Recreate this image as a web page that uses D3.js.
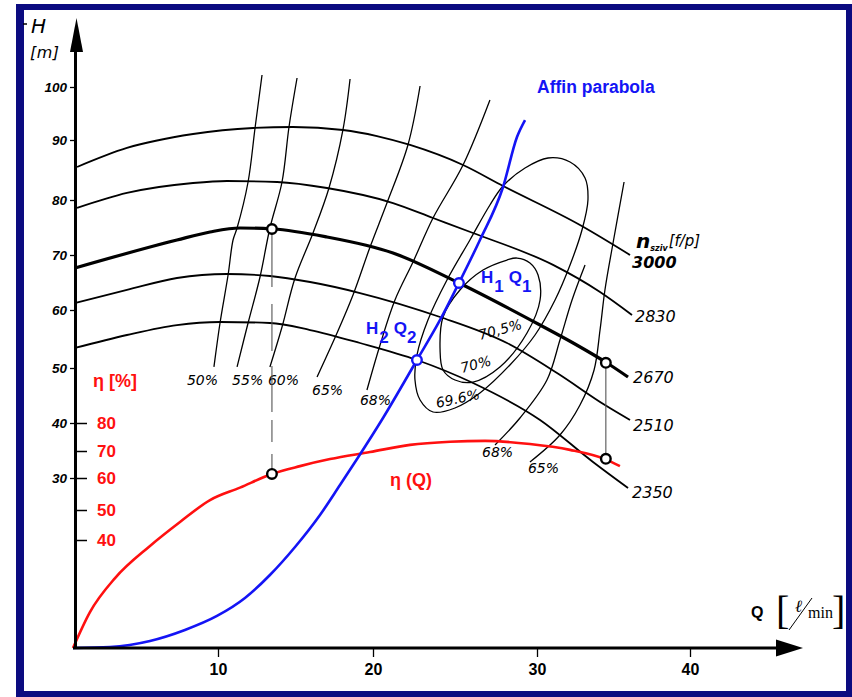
<!DOCTYPE html>
<html><head><meta charset="utf-8">
<script src="https://cdn.jsdelivr.net/npm/d3@7"></script>
<style>body{margin:0;background:#fff}svg{display:block}</style>
</head><body>
<svg id="c" width="852" height="697"></svg>
<script>
// ---------- data ----------
const qTicks = [10, 20, 30, 40];
const hTicks = [30, 40, 50, 60, 70, 80, 90, 100];
const etaTicks = [40, 50, 60, 70, 80];
const speedLabels = ["3000", "2830", "2670", "2510", "2350"];

// H-Q curves at constant speed [Q, H]
const hq3000 = [[0.28,85.5],[3.72,88.67],[8.28,91.13],[12.26,92.26],[14.84,92.45],[18.06,91.89],[20.24,90.75],[22.26,89.17],[25.49,85.83],[27.93,82.33],[32.81,75.45],[36.08,70]];
const hq2830 = [[0.28,78.55],[3.72,81.17],[8.28,82.83],[10.58,83.17],[13.81,83.0],[17.03,82.0],[21.22,79.45],[23.66,76.73],[26.10,74.0],[31.05,68.2],[34.12,63.27],[36.21,59.14]];
const hq2670 = [[0.14,67.64],[7.17,72.73],[9.45,74.18],[11.42,74.91],[13.55,74.73],[17.03,73.27],[21.22,70.36],[25.24,64.91],[30.2,57.41],[32.48,54.14],[34.58,50.86],[35.95,48.36]];
const hq2510 = [[0.14,61.27],[3.72,63.64],[7.17,65.82],[10.58,66.55],[13.35,66.18],[15.94,65.09],[19.16,63.09],[24.09,58.79],[28.17,54.31],[31.31,49.09],[34.44,43.27],[36.08,40.55]];
const hq2350 = [[0.14,53.45],[3.72,55.69],[7.17,57.41],[10.13,57.93],[13.35,57.76],[15.94,56.55],[19.16,54.31],[22.68,51.38],[26.10,47.27],[30.2,40.55],[33.66,32.91],[35.95,28.23]];

// iso-efficiency lines [Q, H]
const iso50  = [[12.84,102.26],[12.39,92.26],[11.94,83],[11.23,74.91],[10.97,72.73],[10.65,66.36],[10.13,57.76],[9.72,50.18]];
const iso55  = [[15.10,101.7],[14.58,92.45],[14.13,83],[13.35,74.91],[12.71,66.0],[11.94,57.76],[11.23,50.18]];
const iso60  = [[18.52,101.5],[18.06,91.89],[17.16,82],[16.13,74],[14.97,65.82],[14.13,57.07],[13.35,50.18]];
const iso65L = [[22.87,100.19],[22.13,89.17],[20.85,79.45],[19.81,71.45],[18.71,62.73],[17.68,56.03],[16.39,48.36]];
const iso68L = [[27.13,97.55],[25.49,85.83],[23.66,76.73],[22.44,68.73],[21.34,61.82],[20.43,53.97],[19.61,46.0]];
const iso68R = [[33.14,68.18],[32.29,61.82],[31.5,54.83],[30.65,47.82],[28.96,40.91],[27.44,36.0]];
const iso65R = [[35.69,83],[34.97,72.18],[34.44,63.64],[34.12,56.55],[33.73,49.64],[32.81,43.27],[31.5,37.82],[29.57,32.91]];
const loop696 = [[27.93,82.33],[29.27,85.33],[30.72,87.0],[32.16,86.33],[33.14,83.67],[33.33,80],[32.94,74.55],[32.16,68.18],[31.18,61.82],[29.88,55.69],[28.35,50.52],[26.52,45.45],[25.0,42.73],[23.66,42.0],[22.87,44.18],[22.56,47.82],[22.68,52.24],[23.35,58.28],[24.51,65.45],[25.91,72.73],[27.13,79.09]];
const loop70 = [[28.17,69.09],[28.78,69.45],[29.57,68.55],[30.07,66.36],[30.2,61.82],[29.39,56.03],[27.74,50.17],[26.10,47.45],[25.0,47.82],[24.27,49.64],[24.09,53.1],[24.27,58.79],[25.30,63.64],[26.71,67.27]];
const isoLabels = ["50%", "55%", "60%", "65%", "68%", "68%", "65%"];
const loopLabels = ["69.6%", "70%", "70,5%"];

// efficiency curve eta(Q) [Q, eta%]
const etaQ = [[0,0],[1.17,13.3],[2.9,25.9],[5.31,37.8],[7.38,46],[9.45,53.1],[11.42,57.0],[13.48,61.5],[15.29,64.4],[17.23,67.0],[19.81,69.6],[22.26,72.2],[24.70,73.3],[26.83,73.6],[29.57,72.5],[32.16,70.4],[34.44,67.0],[35.42,64.4]];
// affinity parabola [Q, H]
const affin = [[0,0],[2.55,0.18],[5.31,1.24],[7.72,3.18],[9.93,5.65],[11.74,8.82],[13.35,12.88],[14.97,17.82],[16.58,23.47],[17.87,28.76],[18.97,33.45],[20.61,40.91],[22.68,51.38],[24.09,58.28],[25.24,64.91],[26.52,72.73],[27.93,82.17],[28.78,90.57],[29.27,93.77]];
// operating points
const opQ = [13.48, 34.5];
const opH = [74.73, 50.9];
const opEta = [61.5, 67.1];
// affinity points H1Q1, H2Q2
const affQ = [25.24, 22.68];
const affH = [64.91, 51.38];

// ---------- scales ----------
const svg = d3.select('#c');
const x = d3.scaleLinear().domain([0,10,20,30,40,50]).range([73,218,373,537,690,843]);
const y = d3.scaleLinear().domain([0,30,40,50,60,70,80,90,100,110]).range([648,478,423,368,310,255,200,140,87,34]);
const yE = d3.scaleLinear().domain([0,40,50,60,70,80,100]).range([648,540,510,478,451,423,367]);

const HAND = "'DejaVu Sans', sans-serif";
const SANS = "'Liberation Sans', Arial, sans-serif";
const BLUE = "#1414f5", RED = "#ff1010", NAVY = "#0b0b80";

// frame
svg.append('rect').attr('x',16).attr('y',4).attr('width',8).attr('height',693).attr('fill',NAVY);
svg.append('rect').attr('x',16).attr('y',4).attr('width',836).attr('height',6).attr('fill',NAVY);
svg.append('rect').attr('x',846).attr('y',4).attr('width',6).attr('height',693).attr('fill',NAVY);
svg.append('rect').attr('x',16).attr('y',691).attr('width',836).attr('height',6).attr('fill',NAVY);

const line = d3.line().x(d => x(d[0])).y(d => y(d[1])).curve(d3.curveCatmullRom.alpha(0.5));
const lineM = d3.line().x(d => x(d[0])).y(d => y(d[1])).curve(d3.curveMonotoneX);
const loopLine = d3.line().x(d => x(d[0])).y(d => y(d[1])).curve(d3.curveCatmullRomClosed.alpha(0.5));
const etaLine = d3.line().x(d => x(d[0])).y(d => yE(d[1])).curve(d3.curveMonotoneX);

// iso-efficiency lines
const isoSets = [iso50, iso55, iso60, iso65L, iso68L, iso68R, iso65R];
const isoLabelOffset = [[-27,18],[-5,18],[-2,18],[-5,18],[-7,15],[-13,12],[-2,11]];
isoSets.forEach((s, i) => {
  svg.append('path').attr('d', line(s)).attr('fill','none').attr('stroke','#000').attr('stroke-width',1.3);
  const e = s[s.length-1];
  svg.append('text').attr('x', x(e[0]) + isoLabelOffset[i][0]).attr('y', y(e[1]) + isoLabelOffset[i][1])
    .attr('font-family', HAND).attr('font-style','oblique').attr('font-size',14).text(isoLabels[i]);
});
[loop696, loop70].forEach(s => {
  svg.append('path').attr('d', loopLine(s)).attr('fill','none').attr('stroke','#000').attr('stroke-width',1.3);
});
const loopLabelPos = [[437,408,-12],[462,373,-15],[480,340,-15]];
loopLabels.forEach((t, i) => {
  const p = loopLabelPos[i];
  svg.append('text').attr('transform',`translate(${p[0]},${p[1]}) rotate(${p[2]})`)
    .attr('font-family',HAND).attr('font-style','oblique').attr('font-size',14).text(t);
});

// H-Q curves
const hqSets = [hq3000, hq2830, hq2670, hq2510, hq2350];
const hqWidth = [1.8, 1.8, 3.2, 1.8, 1.8];
const hqLabelOffset = [[2,13],[3,7],[5,6],[3,11],[4,10]];
hqSets.forEach((s, i) => {
  svg.append('path').attr('d', lineM(s)).attr('fill','none').attr('stroke','#000').attr('stroke-width',hqWidth[i]);
  const e = s[s.length-1];
  svg.append('text').attr('x', x(e[0]) + hqLabelOffset[i][0]).attr('y', y(e[1]) + hqLabelOffset[i][1])
    .attr('font-family',HAND).attr('font-style','oblique').attr('font-size',16)
    .attr('font-weight', i === 0 ? 'bold' : 'normal').text(speedLabels[i]);
});
// n_sziv label
const nl = svg.append('text').attr('x',636).attr('y',248).attr('font-family',HAND).attr('font-style','oblique');
nl.append('tspan').attr('font-size',20).attr('font-weight','bold').text('n');
nl.append('tspan').attr('font-size',8).attr('font-weight','bold').attr('dy',3).text('sziv');
nl.append('tspan').attr('font-size',15).attr('dy',-5).attr('dx',1).text('[f/p]');

// efficiency curve
svg.append('path').attr('d', etaLine(etaQ)).attr('fill','none').attr('stroke',RED).attr('stroke-width',2.6);
// affinity parabola
svg.append('path').attr('d', lineM(affin)).attr('fill','none').attr('stroke',BLUE).attr('stroke-width',2.6);

// vertical connectors
opQ.forEach((q, i) => {
  svg.append('line').attr('x1',x(q)).attr('x2',x(q)).attr('y1',y(opH[i])).attr('y2',yE(opEta[i]))
    .attr('stroke','#555').attr('stroke-width',1.1)
    .attr('stroke-dasharray', i === 0 ? '58,17,47,15,46,8,22,12,40' : null);
});
// markers
opQ.forEach((q, i) => {
  [y(opH[i]), yE(opEta[i])].forEach(cy => {
    svg.append('circle').attr('cx',x(q)).attr('cy',cy).attr('r',4.8).attr('fill','#fff').attr('stroke','#000').attr('stroke-width',2.4);
  });
});
affQ.forEach((q, i) => {
  svg.append('circle').attr('cx',x(q)).attr('cy',y(affH[i])).attr('r',4.8).attr('fill','#fff').attr('stroke',BLUE).attr('stroke-width',2.4);
});

// blue labels
function hqLabel(xp, yp, n) {
  const t = svg.append('text').attr('x',xp).attr('y',yp).attr('font-family',SANS)
    .attr('font-weight','bold').attr('font-size',17).attr('fill',BLUE);
  t.append('tspan').text('H');
  t.append('tspan').attr('dy',9).attr('dx',1).text(n);
  t.append('tspan').attr('dy',-9).attr('dx',5).text('Q');
  t.append('tspan').attr('dy',9).attr('dx',0).text(n);
}
hqLabel(481, 283, '1');
hqLabel(366, 334, '2');
svg.append('text').attr('x',537).attr('y',93).attr('font-family',SANS)
  .attr('font-weight','bold').attr('font-size',17.5).attr('fill',BLUE).text('Affin parabola');

// red labels
svg.append('text').attr('x',93).attr('y',387).attr('font-family',SANS)
  .attr('font-weight','bold').attr('font-size',18).attr('fill',RED).text('η [%]');
svg.append('text').attr('x',390).attr('y',486).attr('font-family',SANS)
  .attr('font-weight','bold').attr('font-size',18).attr('fill',RED).text('η (Q)');

// ---------- axes ----------
const gx = svg.append('g').attr('transform','translate(0,648)')
  .call(d3.axisBottom(x).tickValues(qTicks).tickSize(9).tickPadding(7));
gx.select('.domain').remove();
gx.selectAll('line').attr('stroke','#000').attr('stroke-width',1.3);
gx.selectAll('text').attr('font-family',SANS).attr('font-weight','bold').attr('font-size',16).attr('fill','#000');

const gy = svg.append('g').attr('transform','translate(75,0)')
  .call(d3.axisLeft(y).tickValues(hTicks).tickSize(5).tickPadding(3));
gy.select('.domain').remove();
gy.selectAll('line').attr('stroke','#000').attr('stroke-width',1.3);
gy.selectAll('text').attr('font-family',SANS).attr('font-style','italic').attr('font-weight','bold').attr('font-size',13.5).attr('fill','#000');

const ge = svg.append('g').attr('transform','translate(75,0)')
  .call(d3.axisRight(yE).tickValues(etaTicks).tickSize(12).tickPadding(10));
ge.select('.domain').remove();
ge.selectAll('line').attr('stroke','#000').attr('stroke-width',1.5);
ge.selectAll('text').attr('font-family',SANS).attr('font-weight','bold').attr('font-size',17).attr('fill',RED);

// axis lines with arrows
svg.append('line').attr('x1',73).attr('x2',778).attr('y1',648).attr('y2',648).attr('stroke','#000').attr('stroke-width',3);
svg.append('path').attr('d','M776,639.5 L803,648 L776,656.5 Z').attr('fill','#000');
svg.append('line').attr('x1',75.5).attr('x2',75.5).attr('y1',649).attr('y2',45).attr('stroke','#000').attr('stroke-width',3);
svg.append('path').attr('d','M76.5,18 L70,52 L83,52 Z').attr('fill','#000');

// axis titles
svg.append('text').attr('x',31).attr('y',33).attr('font-family',HAND).attr('font-style','oblique').attr('font-size',20).text('H');
svg.append('line').attr('x1',23).attr('x2',27).attr('y1',24).attr('y2',24).attr('stroke','#000').attr('stroke-width',1.5);
svg.append('text').attr('x',30).attr('y',58).attr('font-family',HAND).attr('font-style','oblique').attr('font-size',16).attr('letter-spacing',0.5).text('[m]');

svg.append('text').attr('x',751).attr('y',618).attr('font-family',SANS).attr('font-weight','bold').attr('font-size',16).text('Q');
svg.append('text').attr('x',776).attr('y',624).attr('font-family',"'Liberation Serif', serif").attr('font-size',40).text('[');
svg.append('text').attr('x',795).attr('y',612).attr('font-family',"'DejaVu Serif', serif").attr('font-style','italic').attr('font-size',17).text('ℓ');
svg.append('line').attr('x1',812).attr('x2',789).attr('y1',598).attr('y2',630).attr('stroke','#000').attr('stroke-width',1);
svg.append('text').attr('x',808).attr('y',618).attr('font-family',"'Liberation Serif', serif").attr('font-size',16).text('min');
svg.append('text').attr('x',832).attr('y',624).attr('font-family',"'Liberation Serif', serif").attr('font-size',40).text(']');
</script>
</body></html>
